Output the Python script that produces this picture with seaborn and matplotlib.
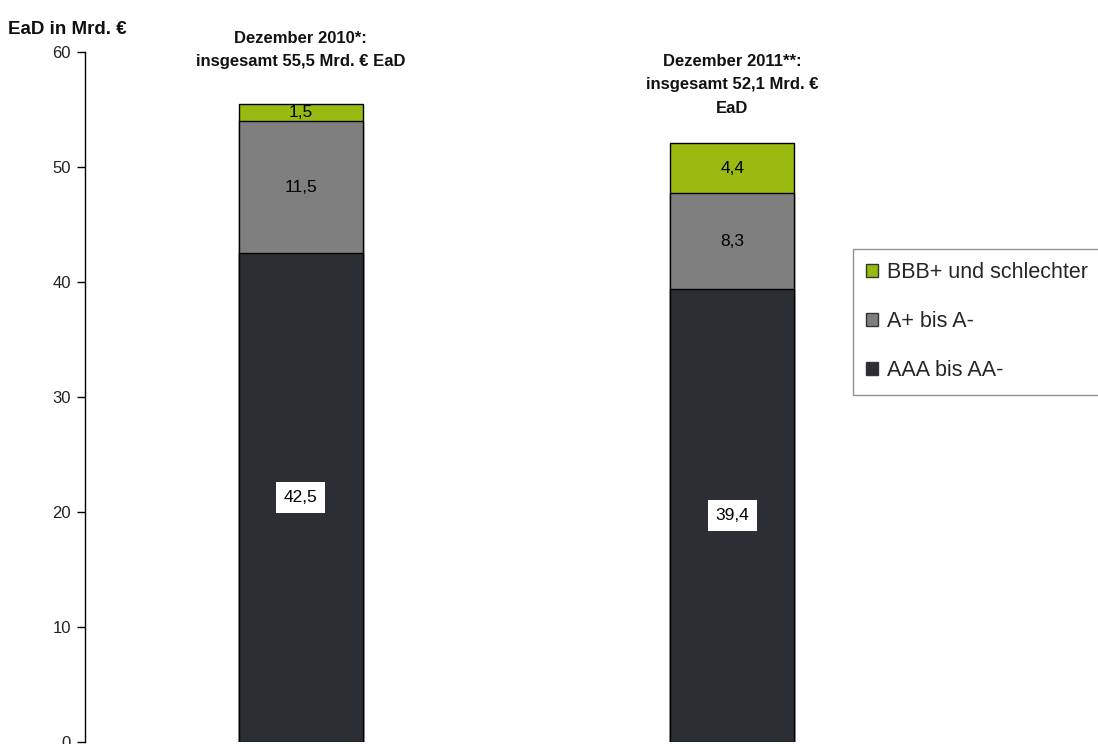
import matplotlib
matplotlib.use("Agg")
import matplotlib.pyplot as plt
import seaborn as sns
import pandas as pd
import numpy as np
from matplotlib.patches import Patch

# Exposure at default by rating class (Mrd. €)
periods = ["Dezember 2010", "Dezember 2011"]
aaa_aa = [42.5, 39.4]
a_plus_minus = [11.5, 8.3]
bbb_worse = [1.5, 4.4]
segment_names = ["AAA bis AA-", "A+ bis A-", "BBB+ und schlechter"]
segment_colors = ["#2b2e33", "#7f7f7f", "#99bb11"]
period_headings = [
    "Dezember 2010*:\ninsgesamt 55,5 Mrd. € EaD",
    "Dezember 2011**:\ninsgesamt 52,1 Mrd. €\nEaD",
]
y_ticks = [0, 10, 20, 30, 40, 50, 60]

sns.set_theme(style="white")
plt.rcParams["font.family"] = ["Liberation Sans", "DejaVu Sans"]

df = pd.DataFrame({
    "period": periods,
    "aaa": aaa_aa,
    "a": a_plus_minus,
    "bbb": bbb_worse,
})
df["cum_a"] = df["aaa"] + df["a"]
df["cum_bbb"] = df["cum_a"] + df["bbb"]

fig = plt.figure(figsize=(10.98, 7.44), dpi=100)
ax = fig.add_axes([85 / 1098, 2 / 744, (948 - 85) / 1098, (742 - 52) / 744])

bar_w = 0.287
# stacked bars: draw cumulative totals from the top layer down
for col, color in [("cum_bbb", segment_colors[2]), ("cum_a", segment_colors[1]), ("aaa", segment_colors[0])]:
    sns.barplot(data=df, x="period", y=col, color=color, width=bar_w,
                edgecolor="black", linewidth=1.0, saturation=1, ax=ax, zorder=2)

ax.set_xlim(-0.5, 1.5)
ax.set_ylim(0, 60)
ax.set_yticks(y_ticks)
ax.set_yticklabels([str(t) for t in y_ticks], fontsize=12, color="#222222")
ax.set_xticks([])
ax.set_xlabel("")
ax.set_ylabel("")
for s in ["top", "right", "bottom"]:
    ax.spines[s].set_visible(False)
ax.spines["left"].set_color("black")
ax.spines["left"].set_linewidth(1.0)
ax.tick_params(axis="y", which="both", left=True, length=6, width=1, color="black", pad=4)

def fmt(v):
    return f"{v:.1f}".replace(".", ",")

for i in range(len(periods)):
    base = df["aaa"][i]
    ax.text(i, base / 2, fmt(base), ha="center", va="center", fontsize=12.5,
            color="black", zorder=5,
            bbox=dict(boxstyle="square,pad=0.45", facecolor="white", edgecolor="none"))
    ax.text(i, base + df["a"][i] / 2, fmt(df["a"][i]), ha="center", va="center",
            fontsize=12.5, color="black", zorder=5)
    ax.text(i, df["cum_a"][i] + df["bbb"][i] / 2, fmt(df["bbb"][i]), ha="center",
            va="center", fontsize=12.5, color="black", zorder=5)

# period headings above each bar
ax.text(0, 60.15, period_headings[0], ha="center", va="center", fontsize=12,
        fontweight="bold", linespacing=1.7, color="#111111")
ax.text(1, 57.15, period_headings[1], ha="center", va="center", fontsize=12,
        fontweight="bold", linespacing=1.7, color="#111111")

fig.text(8 / 1098, 1 - 30 / 744, "EaD in Mrd. €", ha="left", va="center",
         fontsize=13.5, fontweight="bold", color="#111111")

handles = [Patch(facecolor=segment_colors[2], edgecolor="#333333", label=segment_names[2]),
           Patch(facecolor=segment_colors[1], edgecolor="#333333", label=segment_names[1]),
           Patch(facecolor=segment_colors[0], edgecolor="#333333", label=segment_names[0])]
leg = fig.legend(handles=handles, loc="upper left", bbox_to_anchor=(853 / 1098, 1 - 249 / 744),
                 fontsize=15.5, frameon=True, fancybox=False, handlelength=0.55, handleheight=0.55,
                 handletextpad=0.4, labelspacing=1.3, borderpad=0.62, borderaxespad=0)
leg.get_frame().set_edgecolor("#777777")
leg.get_frame().set_linewidth(1.0)

fig.savefig("out.png", dpi=100)
